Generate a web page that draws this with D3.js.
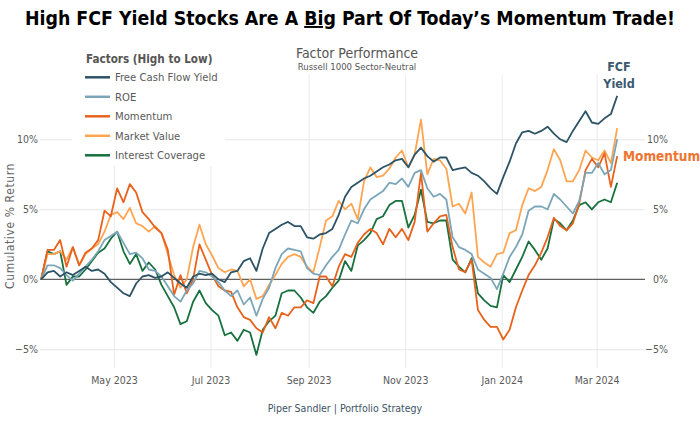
<!DOCTYPE html>
<html><head><meta charset="utf-8">
<script src="https://cdn.jsdelivr.net/npm/d3@7"></script>
<style>body{margin:0;background:#fff}svg{display:block}</style>
</head><body>
<svg id="chart" width="700" height="427"></svg>
<script>
// ---- data ----
const startDate = "2023-03-16";
const stepDays = 4;
const fcfYield = [0,0.5,0.6,0.2,0.5,0.3,0.6,0.9,0.6,0.7,0.4,-0.2,-0.6,-1.0,-1.2,-0.3,0.2,0.3,0.1,0.2,0.5,0.1,-0.3,-0.6,0.2,0.4,0.3,0.4,0.0,-0.2,0.5,0.6,1.3,1.5,0.6,2.2,3.3,3.6,3.9,4.1,3.8,3.8,3.0,2.9,3.2,3.3,3.6,4.6,5.9,6.6,6.9,7.2,7.4,7.7,8.0,8.2,8.5,8.6,8.0,8.9,9.4,8.8,8.4,8.7,8.7,7.8,7.9,8.0,7.6,7.4,7.0,6.5,6.1,7.3,8.4,9.7,10.5,10.6,10.4,10.6,10.9,10.4,10.0,9.8,10.6,11.3,12.0,11.2,11.1,11.5,11.8,13.1];
const roe = [0,1.0,1.0,0.8,0.3,-0.1,0.4,0.9,1.4,2.0,2.8,3.1,3.4,2.6,1.8,1.9,1.5,0.7,0.6,0.2,-0.5,-1.2,-1.6,-0.8,-0.3,0.6,0.5,0.2,-0.2,-0.8,-1.2,-0.8,-1.8,-1.3,-2.6,-1.4,-0.6,0.8,1.8,2.2,2.1,2.0,0.8,0.4,0.3,1.0,1.6,2.1,3.2,4.2,4.0,5.0,5.7,6.0,6.3,6.9,6.8,7.2,6.6,7.6,7.8,6.5,5.9,6.1,5.7,3.0,2.3,2.1,1.8,0.7,0.4,0.1,-0.7,0.4,1.6,2.3,3.2,4.9,5.2,5.2,5.0,6.1,5.7,5.2,4.7,5.6,7.6,7.6,8.3,7.5,7.8,10.0];
const momentum = [0,2.1,2.1,2.8,0.9,2.3,1.0,1.9,2.2,2.8,4.9,4.5,6.5,5.5,6.8,6.2,4.8,4.3,3.7,3.3,2.1,-1.1,0.3,-1.0,0.0,2.5,1.4,0.3,-0.5,-0.8,-0.9,-2.0,-2.7,-2.9,-3.5,-3.8,-2.7,-3.5,-2.4,-2.6,-2.0,-2.0,-1.5,-1.7,0.2,0.2,-0.5,0.9,1.8,1.6,2.6,3.2,3.6,3.3,2.5,3.6,3.0,3.6,2.8,4.1,7.6,3.4,4.0,4.5,4.6,2.3,0.7,0.5,1.4,-2.2,-2.9,-3.4,-3.4,-4.3,-3.6,-2.0,-0.8,0.3,1.0,1.9,3.0,4.4,3.8,3.5,4.0,5.4,7.8,8.6,8.0,9.0,6.6,8.8];
const marketValue = [0,1.8,1.8,2.0,1.4,2.3,1.0,1.8,2.2,2.5,3.4,4.6,4.8,4.3,5.1,4.0,3.8,3.4,3.8,3.3,1.8,0.3,-0.6,0.0,2.3,3.9,2.5,1.7,0.8,0.5,0.7,0.6,-0.5,0.0,-1.4,-1.2,-0.4,0.3,1.1,1.6,1.8,1.6,0.9,0.5,2.3,4.2,4.5,5.6,5.0,5.4,4.3,7.0,8.0,7.3,7.4,7.9,8.7,9.2,8.0,8.9,11.4,7.5,8.6,8.5,7.9,5.2,5.4,4.7,6.2,1.6,1.2,0.9,1.8,1.9,3.3,3.5,5.3,6.5,6.3,6.6,7.8,9.3,8.5,7.0,7.0,7.8,9.2,8.7,8.5,9.2,8.3,10.8];
const interestCoverage = [0,2.0,1.8,2.0,-0.4,0.2,0.2,0.7,1.3,1.9,2.2,2.9,3.4,2.0,1.1,1.8,0.6,1.2,0.7,-0.4,-1.2,-2.0,-3.2,-3.0,-1.6,-0.8,-1.7,-2.2,-2.6,-4.0,-3.8,-4.4,-3.6,-3.8,-5.4,-3.6,-3.0,-2.6,-1.0,-0.8,-0.8,-1.3,-2.0,-2.4,-1.6,-1.2,-0.6,-0.1,1.3,0.6,2.4,2.8,3.3,4.3,4.5,5.3,5.6,5.6,3.7,4.6,6.4,4.1,4.0,4.2,4.2,1.4,0.9,0.5,1.5,-1.0,-1.5,-1.9,-2.0,0.3,-0.2,0.7,1.6,2.7,2.1,1.4,2.2,4.3,4.0,3.5,4.2,5.3,5.5,5.0,5.5,5.7,5.5,6.9];
const seriesNames = ["Free Cash Flow Yield","ROE","Momentum","Market Value","Interest Coverage"];
const seriesColors = ["#2d5466","#7ba6b9","#e8621c","#ffa552","#17703e"];
const yTicks = [-5,0,5,10];
const xTicks = ["2023-05-01","2023-07-01","2023-09-01","2023-11-01","2024-01-01","2024-03-01"];

// ---- build ----
const parse = d3.utcParse("%Y-%m-%d");
const t0 = parse(startDate);
const dates = fcfYield.map((_, i) => d3.utcDay.offset(t0, i * stepDays));
const seriesValues = [fcfYield, roe, momentum, marketValue, interestCoverage];
const series = seriesNames.map((n, i) => ({name: n, color: seriesColors[i],
  pts: seriesValues[i].map((v, j) => ({d: dates[j], v}))}));

const svg = d3.select("#chart");
const FONT = "'DejaVu Sans Condensed','DejaVu Sans',sans-serif";
const x = d3.scaleUtc().domain([dates[0], dates[dates.length - 1]]).range([41.2, 617.2]);
const y = d3.scaleLinear().domain([-5, 10]).range([349.3, 139.3]);
const plotL = 40, plotR = 645, plotT = 75, plotB = 368;

// vertical gridlines
svg.append("g").attr("transform", `translate(0,${plotB})`)
  .call(d3.axisBottom(x).tickValues(xTicks.map(parse)).tickSize(-(plotB - plotT)).tickFormat(""))
  .call(g => g.select(".domain").remove())
  .call(g => g.selectAll("line").attr("stroke", "#ebebeb"));
// horizontal gridlines
svg.append("g").attr("transform", `translate(${plotL},0)`)
  .call(d3.axisLeft(y).tickValues(yTicks).tickSize(-(plotR - plotL)).tickFormat(""))
  .call(g => g.select(".domain").remove())
  .call(g => g.selectAll("line").attr("stroke", d => d === 0 ? "none" : "#e6e6e6"));
// zero line
svg.append("line").attr("x1", plotL).attr("x2", plotR).attr("y1", y(0)).attr("y2", y(0))
  .attr("stroke", "#3a3a3a").attr("stroke-width", 1);

// left & right tick labels
const fmt = d => d3.format("d")(d) + "%";
svg.append("g").attr("transform", `translate(41,0)`)
  .call(d3.axisLeft(y).tickValues(yTicks).tickSize(0).tickPadding(3).tickFormat(fmt))
  .call(g => g.select(".domain").remove())
  .call(g => g.selectAll("text").attr("fill", "#5a5a5a").style("font-family", FONT).style("font-size", "10.5px"));
svg.append("g").attr("transform", `translate(671,0)`)
  .call(d3.axisLeft(y).tickValues(yTicks).tickSize(0).tickPadding(3).tickFormat(fmt))
  .call(g => g.select(".domain").remove())
  .call(g => g.selectAll("text").attr("fill", "#5a5a5a").style("font-family", FONT).style("font-size", "10.5px"));
// x labels
svg.append("g").attr("transform", `translate(0,377)`)
  .call(d3.axisBottom(x).tickValues(xTicks.map(parse)).tickSize(0).tickPadding(0).tickFormat(d3.utcFormat("%b %Y")))
  .call(g => g.select(".domain").remove())
  .call(g => g.selectAll("text").attr("fill", "#5a5a5a").style("font-family", FONT).style("font-size", "10.5px"));

// lines
const line = d3.line().x(p => x(p.d)).y(p => y(p.v));
svg.append("g").selectAll("path").data(series.slice().reverse()).join("path")
  .attr("d", s => line(s.pts)).attr("fill", "none").attr("stroke", s => s.color)
  .attr("stroke-width", 1.8).attr("stroke-linejoin", "round");

// legend
const lg = svg.append("g");
lg.append("rect").attr("x", 72).attr("y", 44).attr("width", 153).attr("height", 122).attr("fill", "#fff");
lg.append("text").attr("x", 86).attr("y", 63).text("Factors (High to Low)")
  .style("font-family", FONT).style("font-size", "11.6px").style("font-weight", "bold").attr("fill", "#555");
series.forEach((s, i) => {
  const cy = 77.3 + i * 19.5;
  lg.append("line").attr("x1", 85).attr("x2", 110).attr("y1", cy).attr("y2", cy)
    .attr("stroke", s.color).attr("stroke-width", 2.5);
  lg.append("text").attr("x", 115).attr("y", cy + 4).text(s.name)
    .style("font-family", FONT).style("font-size", "11.2px").attr("fill", "#5a5a5a");
});

// main title (single text, font size fitted to the reference width)
const title = svg.append("text").attr("x", 350).attr("y", 25).attr("text-anchor", "middle")
  .style("font-family", "'Liberation Sans Narrow','DejaVu Sans Condensed',sans-serif")
  .style("font-size", "23px").style("font-weight", "bold").attr("fill", "#000");
title.append("tspan").text("High FCF Yield Stocks Are A ");
title.append("tspan").text("Big").style("text-decoration", "underline");
title.append("tspan").text(" Part Of Today\u2019s Momentum Trade!");
const tw = title.node().getComputedTextLength();
if (tw > 0) title.style("font-size", (23 * 650 / tw).toFixed(2) + "px");

svg.append("text").attr("x", 357).attr("y", 58).attr("text-anchor", "middle").text("Factor Performance")
  .style("font-family", FONT).style("font-size", "14px").attr("fill", "#555");
svg.append("text").attr("x", 357).attr("y", 70).attr("text-anchor", "middle").text("Russell 1000 Sector-Neutral")
  .style("font-family", FONT).style("font-size", "9.5px").attr("fill", "#555");

// y axis title
svg.append("text").attr("transform", "translate(14,226) rotate(-90)").attr("text-anchor", "middle")
  .text("Cumulative % Return").style("font-family", FONT).style("font-size", "12px")
  .style("letter-spacing", "0.6px").attr("fill", "#666");

// annotations
svg.append("text").attr("x", 619).attr("y", 71).attr("text-anchor", "middle").text("FCF")
  .style("font-family", FONT).style("font-size", "12.5px").style("font-weight", "bold").attr("fill", "#3b5870");
svg.append("text").attr("x", 619).attr("y", 88).attr("text-anchor", "middle").text("Yield")
  .style("font-family", FONT).style("font-size", "12.5px").style("font-weight", "bold").attr("fill", "#3b5870");
svg.append("text").attr("x", 623).attr("y", 161).text("Momentum")
  .style("font-family", FONT).style("font-size", "13.5px").style("font-weight", "bold").attr("fill", "#ed7430");

// footer
svg.append("text").attr("x", 345).attr("y", 412).attr("text-anchor", "middle").text("Piper Sandler  |  Portfolio Strategy")
  .style("font-family", FONT).style("font-size", "10.5px").attr("fill", "#3d5366");
</script>
</body></html>
